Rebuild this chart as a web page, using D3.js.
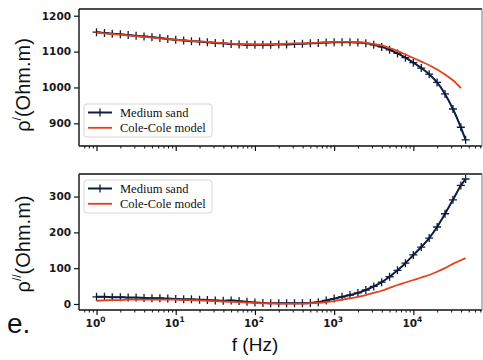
<!DOCTYPE html>
<html>
<head>
<meta charset="utf-8">
<script src="https://cdn.jsdelivr.net/npm/d3@7"></script>
<style>
  body { margin: 0; background: #fff; }
  svg { display: block; }
</style>
</head>
<body>
<svg id="chart" width="483" height="360"></svg>
<script>
// Measurement frequencies (Hz), log spaced
const freq = [1, 1.26, 1.58, 2, 2.51, 3.16, 3.98, 5.01, 6.31, 7.94,
  10, 12.6, 15.8, 20, 25.1, 31.6, 39.8, 50.1, 63.1, 79.4,
  100, 126, 158, 200, 251, 316, 398, 501, 631, 794,
  1000, 1259, 1585, 1995, 2512, 3162, 3981, 5012, 6310, 7943,
  10000, 12589, 15849, 19953, 25119, 31623, 39811, 45700];

// Real part of resistivity (Ohm.m)
const rhoReal = [1154, 1152, 1150, 1148, 1146, 1144, 1142, 1140, 1138, 1135,
  1133, 1131, 1129, 1128, 1126, 1124, 1123, 1121, 1120, 1119,
  1119, 1119, 1119, 1120, 1120, 1121, 1122, 1123, 1124, 1125,
  1126, 1126, 1126, 1125, 1123, 1119, 1113, 1105, 1095, 1083,
  1069, 1054, 1037, 1014, 982, 940, 889, 854];
const modelReal = [1153, 1151, 1149, 1147, 1145, 1143, 1141, 1139, 1137, 1135,
  1133, 1131, 1130, 1128, 1127, 1125, 1124, 1122, 1121, 1121,
  1120, 1120, 1121, 1121, 1122, 1123, 1123, 1124, 1125, 1126,
  1127, 1127, 1127, 1126, 1124, 1121, 1117, 1110, 1102, 1092,
  1082, 1072, 1062, 1050, 1036, 1020, 998, null];

// Imaginary part of resistivity (Ohm.m)
const rhoImag = [20, 20, 19, 19, 18, 18, 17, 16, 16, 15,
  14, 13, 13, 12, 11, 10, 9, 10, 8, 6,
  4, 3, 2, 2, 2, 2, 2, 3, 5, 10,
  15, 20, 25, 31, 39, 49, 61, 76, 94, 114,
  137, 159, 184, 215, 252, 291, 331, 349];
const modelImag = [9, 10, 11, 11, 12, 12, 12, 12, 12, 12,
  12, 11, 11, 10, 9, 8, 7, 6, 5, 4,
  3, 2, 2, 1, 1, 1, 1, 2, 3, 5,
  8, 12, 16, 20, 25, 31, 37, 45, 53, 60,
  67, 74, 81, 90, 100, 112, 122, 128];

const realTicks = [900, 1000, 1100, 1200];
const imagTicks = [0, 100, 200, 300];
const decadeTicks = [1, 10, 100, 1000, 10000];
const decadeExp = ["0", "1", "2", "3", "4"];
const seriesNames = ["Medium sand", "Cole-Cole model"];

const navy = "#0d1c3f";
const red = "#e4401b";
const svg = d3.select("#chart");

const left = 79, right = 482;
const x = d3.scaleLog().domain([0.601, 73600]).range([left, right]);
const minorTicks = x.ticks().filter(v => Math.abs(Math.log10(v) - Math.round(Math.log10(v))) > 1e-6);

const panels = [
  { top: 9, bottom: 146, domain: [836.8, 1218.7], ticks: realTicks,
    data: rhoReal, model: modelReal, labels: false,
    ylab: "/", labY: 85, legendY: 104 },
  { top: 174, bottom: 310, domain: [-16.8, 363], ticks: imagTicks,
    data: rhoImag, model: modelImag, labels: true,
    ylab: "//", labY: 244, legendY: 180 }
];

panels.forEach(p => {
  const y = d3.scaleLinear().domain(p.domain).range([p.bottom, p.top]);
  const g = svg.append("g");

  // y axis
  const ya = g.append("g").attr("transform", `translate(${left},0)`)
    .call(d3.axisLeft(y).tickValues(p.ticks).tickSize(5).tickPadding(3).tickFormat(d3.format("d")));
  ya.select(".domain").remove();
  ya.selectAll(".tick line").attr("stroke", "#111").attr("stroke-width", 1.2);
  ya.selectAll(".tick text").attr("font-family", "DejaVu Sans").attr("font-size", 10.5)
    .attr("font-weight", "bold").attr("fill", "#1a1a1a");

  // x axis: decades and minor ticks
  const xa = g.append("g").attr("transform", `translate(0,${p.bottom})`)
    .call(d3.axisBottom(x).tickValues(decadeTicks).tickSize(5).tickFormat(""));
  xa.select(".domain").remove();
  xa.selectAll(".tick line").attr("stroke", "#111").attr("stroke-width", 1.2);
  const xm = g.append("g").attr("transform", `translate(0,${p.bottom})`)
    .call(d3.axisBottom(x).tickValues(minorTicks).tickSize(2.5).tickFormat(""));
  xm.select(".domain").remove();
  xm.selectAll(".tick line").attr("stroke", "#111").attr("stroke-width", 1);

  if (p.labels) {
    decadeTicks.forEach((v, i) => {
      const t = g.append("text").attr("x", x(v) - 1).attr("y", p.bottom + 17)
        .attr("text-anchor", "middle").attr("font-family", "DejaVu Sans")
        .attr("font-size", 10.5).attr("font-weight", "bold").attr("fill", "#1a1a1a");
      t.append("tspan").text("10");
      t.append("tspan").attr("dy", -5).attr("font-size", 7.5).text(decadeExp[i]);
    });
  }

  // frame
  g.append("line").attr("x1", left).attr("x2", right).attr("y1", p.top).attr("y2", p.top)
    .attr("stroke", "#111").attr("stroke-width", 1.6);
  g.append("line").attr("x1", left).attr("x2", right).attr("y1", p.bottom).attr("y2", p.bottom)
    .attr("stroke", "#111").attr("stroke-width", 1.4);
  g.append("line").attr("x1", left).attr("x2", left).attr("y1", p.top).attr("y2", p.bottom)
    .attr("stroke", "#111").attr("stroke-width", 1.4);
  g.append("line").attr("x1", right).attr("x2", right).attr("y1", p.top).attr("y2", p.bottom)
    .attr("stroke", "#777").attr("stroke-width", 1);

  // measured series: line + '+' markers
  const pts = freq.map((f, i) => [f, p.data[i]]);
  const line = d3.line().x(d => x(d[0])).y(d => y(d[1])).curve(d3.curveMonotoneX);
  g.append("path").attr("d", line(pts)).attr("fill", "none")
    .attr("stroke", navy).attr("stroke-width", 2);
  g.append("g").selectAll("path").data(pts).join("path")
    .attr("d", d => `M${x(d[0]) - 4},${y(d[1])}h8M${x(d[0])},${y(d[1]) - 4}v8`)
    .attr("stroke", navy).attr("stroke-width", 1.3).attr("fill", "none");

  // Cole-Cole model
  const mpts = freq.map((f, i) => [f, p.model[i]]);
  const mline = d3.line().defined(d => d[1] != null)
    .x(d => x(d[0])).y(d => y(d[1])).curve(d3.curveMonotoneX);
  g.append("path").attr("d", mline(mpts)).attr("fill", "none")
    .attr("stroke", red).attr("stroke-width", 1.8);

  // legend
  const lg = g.append("g").attr("transform", `translate(84,${p.legendY})`);
  lg.append("rect").attr("width", 128).attr("height", 33).attr("rx", 3)
    .attr("fill", "#fff").attr("fill-opacity", 0.85)
    .attr("stroke", "#d6d6d6").attr("stroke-width", 1);
  seriesNames.forEach((name, i) => {
    const yy = 8.5 + i * 15.3;
    lg.append("line").attr("x1", 4).attr("x2", 28).attr("y1", yy).attr("y2", yy)
      .attr("stroke", i === 0 ? navy : red).attr("stroke-width", i === 0 ? 2 : 1.8);
    if (i === 0) {
      lg.append("path").attr("d", `M16,${yy - 4}v8`)
        .attr("stroke", navy).attr("stroke-width", 1.3);
    }
    lg.append("text").attr("x", 36).attr("y", yy + 4)
      .attr("font-family", "Liberation Serif").attr("font-size", 12.5)
      .attr("fill", "#111").text(name);
  });

  // y label
  const yl = svg.append("text")
    .attr("transform", `translate(30,${p.labY}) rotate(-90)`)
    .attr("text-anchor", "middle").attr("font-family", "Liberation Sans")
    .attr("font-size", 20).attr("fill", "#111");
  yl.append("tspan").text("ρ");
  yl.append("tspan").attr("dy", -9).attr("font-size", 12).text(p.ylab);
  yl.append("tspan").attr("dy", 9).text("(Ohm.m)");
});

svg.append("text").attr("x", 255).attr("y", 351).attr("text-anchor", "middle")
  .attr("font-family", "Liberation Sans").attr("font-size", 19).attr("fill", "#111")
  .text("f (Hz)");
svg.append("text").attr("x", 7).attr("y", 333)
  .attr("font-family", "Liberation Sans").attr("font-size", 28).attr("fill", "#111")
  .text("e.");
</script>
</body>
</html>
